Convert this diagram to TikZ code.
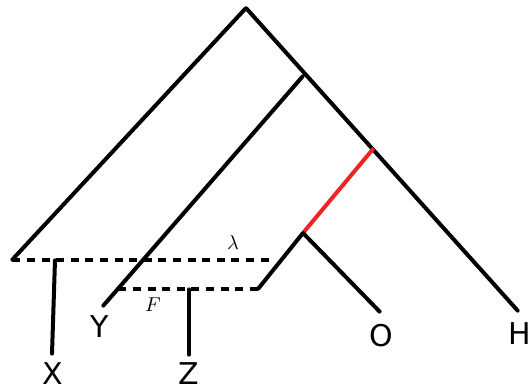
\documentclass[tikz,border=0pt]{standalone}
\usepackage{fontspec}
\newfontfamily\labelfont{DejaVu Sans}
\usepackage{tikz}
\usetikzlibrary{positioning, calc}

\definecolor{treered}{RGB}{238,36,36}

\begin{document}
\begin{tikzpicture}[
    x=0.5pt, y=-0.5pt,
    pt/.style={inner sep=0pt, minimum size=0pt},
    branch/.style={line width=2pt, line cap=round},
    hybrid/.style={branch, treered},
    flow/.style={line width=2pt, dash pattern=on 4pt off 3.3pt},
    leaf/.style={inner sep=0pt, font=\labelfont\fontsize{15}{18}\selectfont},
    param/.style={inner sep=0pt, font=\normalsize}
]
    \useasboundingbox (0,0) rectangle (530,391);

    % tree points
    \node[pt] (root) at (246,8) {};
    \node[pt] (lend) at (12,260) {};
    \node[pt] (hend) at (518,311) {};
    \node[pt] (yjoin) at (303,76) {};
    \node[pt] (yend) at (103,306) {};
    \node[pt] (rtop) at (373,149) {};
    \node[pt] (rbot) at (303,233) {};
    \node[pt] (oend) at (380,312) {};
    \node[pt] (fend) at (258,289) {};
    \node[pt] (lamend) at (272,260) {};
    \node[pt] (fstart) at (118,289) {};
    \node[pt] (xtop) at (55,260) {};
    \node[pt] (xend) at (52,354) {};
    \node[pt] (ztop) at (189,289) {};
    \node[pt] (zend) at (189,355) {};

    \draw[branch] (lend) -- (root) -- (hend);
    \draw[branch] (yend) -- (yjoin);
    \draw[hybrid] (rtop) -- (rbot);
    \draw[branch] (rbot) -- (oend);
    \draw[branch] (rbot) -- (fend);
    \draw[branch] (xtop) -- (xend);
    \draw[branch] (ztop) -- (zend);

    % gene flow
    \draw[flow] (lend) -- (lamend);
    \draw[flow] (fstart) -- (fend);

    \node[leaf] (x) at (53,374) {X};
    \node[leaf] (y) at (100,327) {Y};
    \node[leaf] (z) at (189,374) {Z};
    \node[leaf] (o) at (381,336) {O};
    \node[leaf] (h) at (520,334) {H};

    \node[param] (lam) at (233,243) {$\lambda$};
    \node[param] (f) at (153,305) {$F$};
\end{tikzpicture}
\end{document}
